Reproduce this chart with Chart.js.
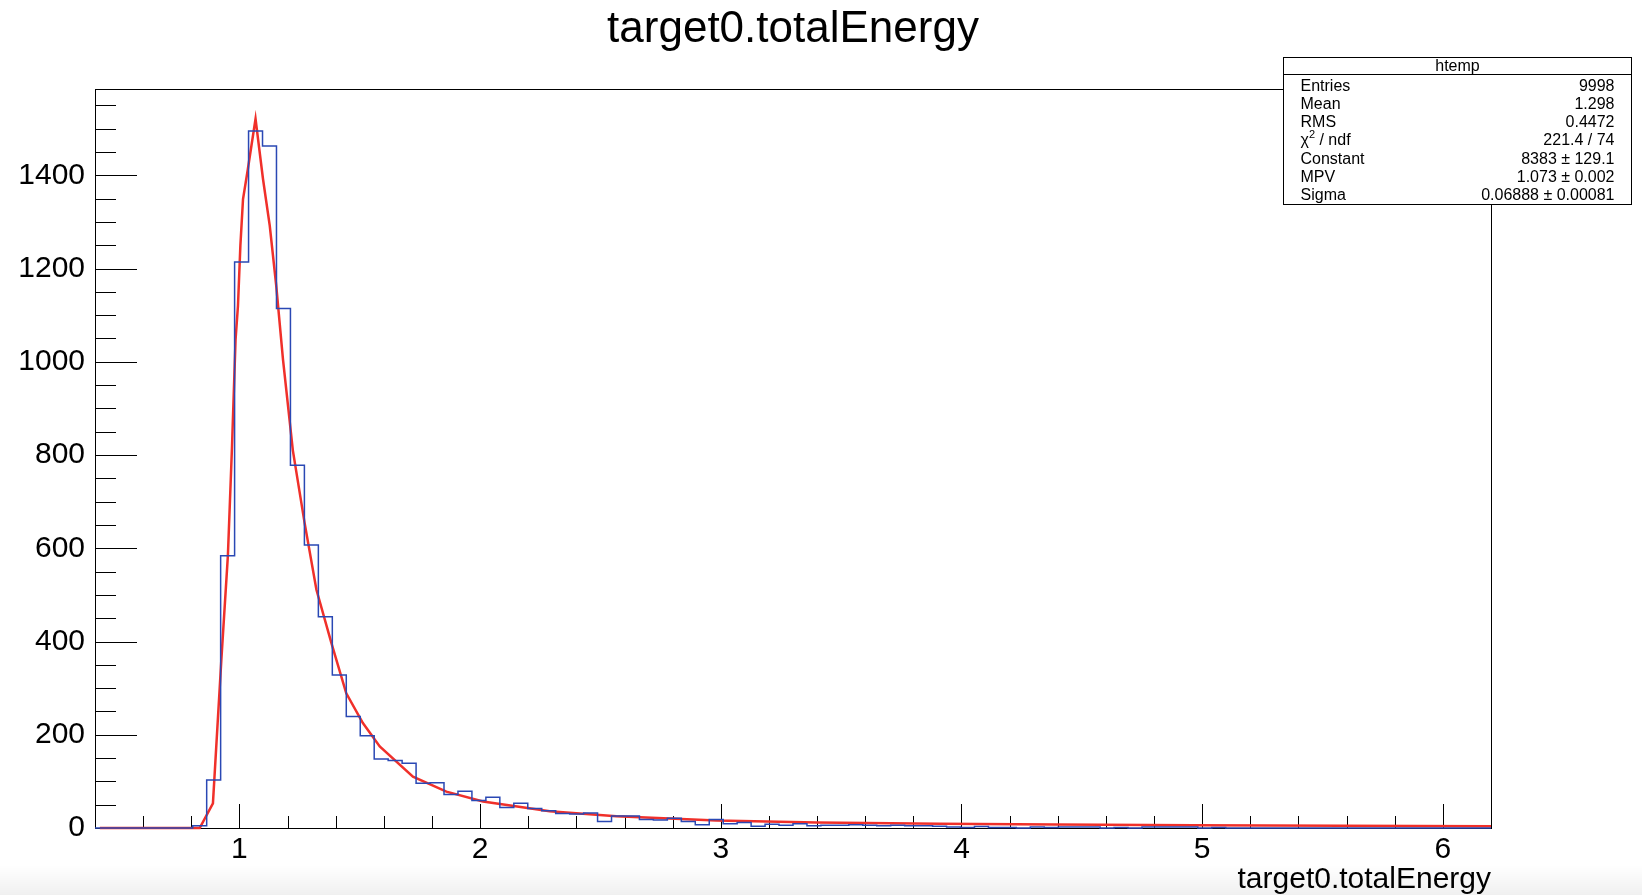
<!DOCTYPE html>
<html lang="en">
<head>
<meta charset="UTF-8">
<title>target0.totalEnergy</title>
<script src="https://cdn.jsdelivr.net/npm/chart.js"></script>
<style>
    html, body { margin: 0; padding: 0; background: #fff; overflow: hidden; }
    #wrap { position: relative; width: 1642px; height: 895px; }
    #shade {
        position: absolute; left: 0; right: 0; bottom: 0; height: 30px;
        background: linear-gradient(to bottom, rgba(0,0,0,0), rgba(0,0,0,0.06));
        pointer-events: none;
    }
</style>
</head>
<body>
<div id="wrap">
    <canvas id="chart" width="1642" height="895"></canvas>
    <div id="shade"></div>
</div>
<script>
// histogram htemp: 100 bins between xLow and xHigh
const xLow = 0.4;
const xHigh = 6.2;
const counts = [
    0, 0, 0, 0, 0, 0, 0, 5, 103, 584,
    1214, 1495, 1463, 1114, 778, 607, 453, 328, 239, 198,
    148, 145, 139, 96, 97, 72, 79, 59, 66, 44,
    53, 42, 37, 31, 30, 32, 14, 26, 26, 18,
    17, 21, 14, 7, 18, 9, 12, 4, 8, 6,
    9, 5, 6, 6, 7, 6, 5, 6, 5, 5,
    4, 2, 1, 3, 1, 1, 0, 2, 1, 2,
    2, 2, 0, 1, 0, 2, 2, 2, 2, 0,
    1, 0, 0, 0, 0, 0, 0, 0, 0, 0,
    0, 0, 0, 0, 0, 0, 0, 0, 0, 0
];

// landau fit curve
const fitX = [0.42, 0.835, 0.89, 0.925, 0.952, 0.969, 0.984, 0.994, 1.004, 1.015, 1.035, 1.067,
    1.098, 1.126, 1.153, 1.181, 1.222, 1.271, 1.32, 1.382, 1.444, 1.513, 1.583, 1.721, 1.86,
    2.012, 2.289, 2.566, 2.982, 3.397, 3.91, 4.388, 4.968, 6.2];
const fitY = [0, 0, 53, 361, 583, 815, 1048, 1120, 1249, 1349, 1413, 1521,
    1392, 1292, 1163, 1005, 810, 654, 511, 397, 289, 225, 175, 110, 78,
    57, 36, 25, 16, 12, 9, 7.5, 5.8, 3.5];

const xTickValues = [1, 2, 3, 4, 5, 6];
const yTickValues = [0, 200, 400, 600, 800, 1000, 1200, 1400];
const yMax = 1585;

const statNames = ['Entries', 'Mean', 'RMS', 'χ^2 / ndf', 'Constant', 'MPV', 'Sigma'];
const statValues = ['9998', '1.298', '0.4472', '221.4 / 74', '8383 ± 129.1', '1.073 ± 0.002', '0.06888 ± 0.00081'];

const FONT = "'Liberation Sans', Arial, Helvetica, sans-serif";

// point at each bin's low edge, plus the last edge
const binW = (xHigh - xLow) / counts.length;
const histPoints = counts.map((c, i) => ({ x: xLow + i * binW, y: c }));
histPoints.push({ x: xHigh, y: counts[counts.length - 1] });
const fitPoints = fitX.map((x, i) => ({ x: x, y: fitY[i] }));

// ROOT style frame, inner ticks, title and stats box
const rootDecor = {
    id: 'rootDecor',
    beforeDatasetsDraw(chart) {
        const { ctx, chartArea: a, scales: { x, y } } = chart;
        ctx.save();
        ctx.strokeStyle = '#000';
        ctx.lineWidth = 1;
        ctx.beginPath();
        // y ticks every 50, long every 200
        for (let v = 50; v < yMax; v += 50) {
            const py = Math.round(y.getPixelForValue(v)) + 0.5;
            const len = v % 200 === 0 ? 42 : 21;
            ctx.moveTo(a.left, py);
            ctx.lineTo(a.left + len, py);
        }
        // x ticks every 0.2, long on integers
        for (let k = 3; k < 31; k++) {
            const v = k * 0.2;
            const px = Math.round(x.getPixelForValue(v)) + 0.5;
            const len = k % 5 === 0 ? 24 : 12;
            ctx.moveTo(px, a.bottom);
            ctx.lineTo(px, a.bottom - len);
        }
        ctx.stroke();
        ctx.strokeRect(a.left + 0.5, a.top + 0.5, a.right - a.left, a.bottom - a.top);
        ctx.restore();
    },
    afterDraw(chart) {
        const { ctx } = chart;
        ctx.save();
        // title
        ctx.fillStyle = '#000';
        ctx.font = '44px ' + FONT;
        ctx.textAlign = 'center';
        ctx.textBaseline = 'alphabetic';
        ctx.fillText('target0.totalEnergy', 793, 42);

        // stats box
        const bx = 1283.5, by = 57.5, bw = 348, bh = 147, head = 17;
        ctx.fillStyle = '#fff';
        ctx.fillRect(bx, by, bw, bh);
        ctx.strokeStyle = '#000';
        ctx.lineWidth = 1;
        ctx.strokeRect(bx, by, bw, bh);
        ctx.beginPath();
        ctx.moveTo(bx, by + head);
        ctx.lineTo(bx + bw, by + head);
        ctx.stroke();
        ctx.fillStyle = '#000';
        ctx.font = '16px ' + FONT;
        ctx.textBaseline = 'middle';
        ctx.textAlign = 'center';
        ctx.fillText('htemp', bx + bw / 2, by + head / 2 + 0.5);
        const rowStart = 86.5, rowStep = 18.15;
        statNames.forEach((name, i) => {
            const cy = rowStart + rowStep * i;
            ctx.textAlign = 'left';
            if (name.includes('^')) {
                const [base, rest] = name.split('^');
                ctx.font = '16px ' + FONT;
                ctx.fillText(base, bx + 17, cy);
                let w = ctx.measureText(base).width;
                ctx.font = '11px ' + FONT;
                ctx.fillText(rest[0], bx + 17 + w, cy - 6);
                w += ctx.measureText(rest[0]).width;
                ctx.font = '16px ' + FONT;
                ctx.fillText(rest.slice(1), bx + 17 + w, cy);
            } else {
                ctx.fillText(name, bx + 17, cy);
            }
            ctx.textAlign = 'right';
            ctx.fillText(statValues[i], bx + 331, cy);
        });
        ctx.restore();
    }
};

new Chart(document.getElementById('chart'), {
    type: 'line',
    data: {
        datasets: [
            {
                label: 'htemp',
                data: histPoints,
                stepped: 'before',
                borderColor: '#2a48b4',
                borderWidth: 1.5,
                pointRadius: 0,
                fill: false,
                clip: false
            },
            {
                label: 'landau',
                data: fitPoints,
                borderColor: '#f0302a',
                borderWidth: 2.5,
                pointRadius: 0,
                tension: 0,
                fill: false,
                clip: false
            }
        ]
    },
    options: {
        responsive: false,
        animation: false,
        devicePixelRatio: 1,
        layout: { padding: { left: 0, right: 151, top: 89, bottom: 0 } },
        plugins: {
            legend: { display: false },
            tooltip: { enabled: false },
            title: { display: false }
        },
        scales: {
            x: {
                type: 'linear',
                position: 'bottom',
                min: xLow,
                max: xHigh,
                grid: { display: false, drawTicks: false },
                border: { display: false },
                ticks: {
                    color: '#000',
                    font: { family: FONT, size: 30 },
                    padding: 4,
                    maxRotation: 0,
                    autoSkip: false,
                    callback: v => String(v)
                },
                title: {
                    display: true,
                    text: 'target0.totalEnergy',
                    align: 'end',
                    color: '#000',
                    font: { family: FONT, size: 30, lineHeight: 1.0 },
                    padding: 0
                },
                afterBuildTicks: s => { s.ticks = xTickValues.map(v => ({ value: v })); },
                afterFit: s => { s.height = 67; }
            },
            y: {
                type: 'linear',
                min: 0,
                max: yMax,
                grid: { display: false, drawTicks: false },
                border: { display: false },
                ticks: {
                    color: '#000',
                    font: { family: FONT, size: 30 },
                    padding: 10,
                    callback: v => String(v)
                },
                afterBuildTicks: s => { s.ticks = yTickValues.map(v => ({ value: v })); },
                afterFit: s => { s.width = 95; }
            }
        }
    },
    plugins: [rootDecor]
});
</script>
</body>
</html>
